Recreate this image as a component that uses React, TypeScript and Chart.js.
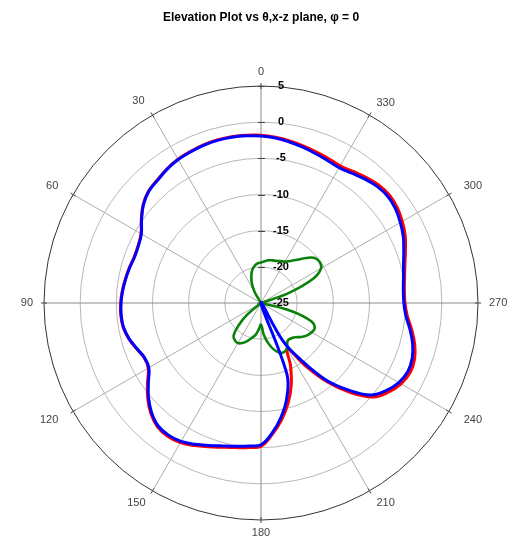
import React, { useEffect, useRef } from 'react';
import { Chart, registerables } from 'chart.js';

Chart.register(...registerables);

// Angle (degrees, counter-clockwise from top) for each sample
const ANGLES = [
  0, 5, 10, 15, 20, 25, 30, 35, 40, 45, 50, 55,
  60, 65, 70, 75, 80, 85, 90, 95, 100, 105, 110, 115,
  120, 125, 130, 135, 140, 145, 150, 155, 160, 165, 170, 175,
  180, 185, 190, 195, 200, 205, 210, 215, 220, 225, 230, 235,
  240, 245, 250, 255, 260, 265, 270, 275, 280, 285, 290, 295,
  300, 305, 310, 315, 320, 325, 330, 335, 340, 345, 350, 355,
];

// Gain in dB per angle (values below -25 are clipped at the centre)
const GAIN_RED = [
  -1.8, -1.72, -1.65, -1.65, -1.72, -1.88, -2.05, -2.35, -2.75, -3.05, -3.75, -4.8,
  -5.85, -6.25, -6.35, -6.15, -5.95, -5.75, -5.6, -5.55, -5.65, -6.05, -6.65, -7.15,
  -7.0, -5.85, -4.55, -3.45, -2.7, -2.5, -2.7, -3.25, -3.85, -4.35, -4.7, -4.95,
  -5.2, -6.8, -8.6, -10.6, -12.8, -15.3, -17.7, -14.6, -10.8, -7.5, -4.8, -3.5,
  -2.65, -2.25, -2.4, -3.0, -3.85, -4.7, -5.1, -5.1, -4.85, -4.4, -3.75, -3.0,
  -2.45, -2.0, -1.8, -1.95, -2.35, -2.8, -3.1, -2.95, -2.75, -2.5, -2.25, -2.0,
];

const GAIN_BLUE = [
  -1.9, -1.8, -1.72, -1.72, -1.8, -1.95, -2.1, -2.4, -2.8, -3.1, -3.8, -4.85,
  -5.9, -6.3, -6.4, -6.2, -6.0, -5.8, -5.65, -5.6, -5.7, -6.1, -6.7, -7.2,
  -7.1, -6.0, -4.7, -3.6, -2.85, -2.7, -2.9, -3.45, -4.05, -4.55, -4.9, -5.15,
  -5.4, -7.0, -9.0, -11.3, -14.5, -25, -19.0, -15.4, -11.2, -8.0, -5.2, -3.9,
  -3.0, -2.6, -2.75, -3.3, -4.1, -4.9, -5.25, -5.25, -5.0, -4.6, -4.0, -3.3,
  -2.75, -2.3, -2.1, -2.25, -2.65, -3.1, -3.4, -3.25, -3.0, -2.7, -2.4, -2.1,
];

const GAIN_GREEN = [
  -19.4, -19.5, -19.8, -20.3, -21.1, -22.0, -23.2, -25, -25, -25, -25, -25,
  -25, -25, -25, -25, -25, -25, -25, -25, -25, -25, -25, -25,
  -25, -25, -22.5, -20.6, -19.1, -18.7, -18.6, -18.9, -19.4, -20.0, -20.5, -21.3,
  -22.0, -20.6, -19.4, -18.4, -17.7, -17.5, -17.8, -18.6, -18.6, -18.3, -17.7, -17.2,
  -16.9, -16.8, -17.6, -20.5, -25, -25, -25, -25, -25, -25, -20.8, -17.0,
  -15.4, -15.1, -15.3, -16.2, -17.2, -17.9, -18.4, -18.6, -18.8, -18.9, -19.0, -19.2,
];

const RADIAL_TICKS = [-25, -20, -15, -10, -5, 0, 5];
const R_MIN = -25;
const R_MAX = 5;
const LABEL_EVERY = 30;
const TITLE = 'Elevation Plot vs θ,x-z plane, φ = 0';
const FONT = "'Liberation Sans', Arial, sans-serif";

// distance (px) of each angle label anchor beyond the outer ring
const ANGLE_LABEL_GAP: Record<string, number> = {
  '0': 14, '30': 16, '60': 17, '90': 11, '120': 17, '150': 14,
  '180': 13, '210': 14, '240': 17, '270': 11, '300': 17, '330': 14,
};

// Chart.js radar runs clockwise; reorder so angles increase counter-clockwise
function toClockwise<T>(arr: T[]): T[] {
  const n = arr.length;
  return arr.map((_, i) => arr[(n - i) % n]);
}

const LABELS = toClockwise(ANGLES).map((a) => String(a));
const STEP = 360 / ANGLES.length;
const LABEL_IDX = LABEL_EVERY / STEP;

const axisDecor = {
  id: 'axisDecor',
  beforeDatasetsDraw(chart: any) {
    const scale = chart.scales.r;
    const ctx = chart.ctx as CanvasRenderingContext2D;
    const xc = scale.xCenter;
    const yc = scale.yCenter;
    ctx.save();
    ctx.strokeStyle = '#444';
    ctx.lineWidth = 1;
    RADIAL_TICKS.forEach((v) => {
      const d = scale.getDistanceFromCenterForValue(v);
      ctx.beginPath();
      ctx.moveTo(xc - 3, Math.round(yc - d) + 0.5);
      ctx.lineTo(xc + 4, Math.round(yc - d) + 0.5);
      ctx.stroke();
    });
    const labels: string[] = chart.data.labels;
    ctx.font = `11px ${FONT}`;
    ctx.fillStyle = '#444';
    ctx.textBaseline = 'middle';
    for (let i = 0; i < labels.length; i++) {
      if (i % LABEL_IDX !== 0) continue;
      const p1 = scale.getPointPosition(i, scale.drawingArea - 3);
      const p2 = scale.getPointPosition(i, scale.drawingArea + 3);
      ctx.beginPath();
      ctx.moveTo(p1.x, p1.y);
      ctx.lineTo(p2.x, p2.y);
      ctx.stroke();
      const gap = ANGLE_LABEL_GAP[labels[i]] ?? 15;
      const pl = scale.getPointPosition(i, scale.drawingArea + gap);
      const dx = pl.x - xc;
      ctx.textAlign = Math.abs(dx) < 1 ? 'center' : dx < 0 ? 'right' : 'left';
      ctx.fillText(labels[i], pl.x, pl.y);
    }
    ctx.font = `bold 11px ${FONT}`;
    ctx.fillStyle = '#000';
    ctx.textAlign = 'center';
    RADIAL_TICKS.forEach((v) => {
      const d = scale.getDistanceFromCenterForValue(v);
      ctx.fillText(String(v), xc + 20, yc - d);
    });
    ctx.restore();
  },
};

export default function App() {
  const ref = useRef<HTMLCanvasElement | null>(null);

  useEffect(() => {
    if (!ref.current) return;
    const chart = new Chart(ref.current, {
      type: 'radar',
      data: {
        labels: LABELS,
        datasets: [
          {
            label: 'blue',
            data: toClockwise(GAIN_BLUE),
            borderColor: '#0000ff',
            borderWidth: 3,
            tension: 0.4,
            fill: false,
          },
          {
            label: 'green',
            data: toClockwise(GAIN_GREEN),
            borderColor: '#0a820a',
            borderWidth: 2.6,
            tension: 0.4,
            fill: false,
          },
          {
            label: 'red',
            data: toClockwise(GAIN_RED),
            borderColor: '#ff0000',
            borderWidth: 3,
            tension: 0.4,
            fill: false,
          },
        ],
      },
      options: {
        responsive: false,
        animation: false,
        devicePixelRatio: 1,
        layout: { padding: { left: 6, right: 0, top: 0, bottom: 18 } },
        elements: {
          point: { radius: 0, hoverRadius: 0 },
        },
        plugins: {
          legend: { display: false },
          tooltip: { enabled: false },
          title: {
            display: true,
            text: TITLE,
            color: '#000',
            font: { family: FONT, size: 12, weight: 'bold' },
            padding: { top: 10, bottom: 61.6 },
          },
        },
        scales: {
          r: {
            min: R_MIN,
            max: R_MAX,
            beginAtZero: false,
            ticks: { stepSize: 5, display: false },
            grid: {
              circular: true,
              lineWidth: 1,
              color: (c: any) => (c.tick && c.tick.value === R_MAX ? '#333' : '#b8b8b8'),
            },
            angleLines: {
              display: true,
              color: (c: any) => (c.index % (LABEL_IDX * 3) === 0 ? '#8c8c8c' : '#adadad'),
              lineWidth: (c: any) => (c.index % LABEL_IDX === 0 ? 1 : 0),
            },
            pointLabels: { display: false },
          },
        },
      },
      plugins: [axisDecor],
    } as any);
    return () => chart.destroy();
  }, []);

  return (
    <div style={{ position: 'absolute', left: 0, top: 0, width: 516, height: 539, background: '#fff' }}>
      <canvas ref={ref} width={516} height={539} />
    </div>
  );
}
